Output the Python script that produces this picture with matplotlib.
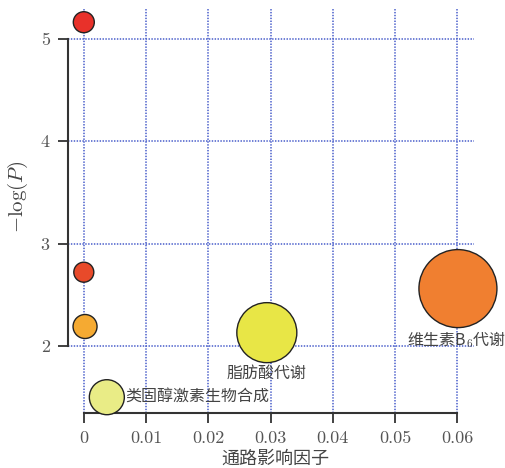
import matplotlib
matplotlib.use('Agg')
import matplotlib.pyplot as plt

plt.rcParams['font.family'] = ['Noto Sans CJK SC', 'DejaVu Sans']
plt.rcParams['mathtext.fontset'] = 'cm'

# pathway data
impact = [0.0, 0.0, 0.0002, 0.0037, 0.0294, 0.0601]
neglogp = [5.16, 2.72, 2.19, 1.50, 2.13, 2.56]
diam_px = [21, 20, 24, 35, 60, 78]
colors = ['#e8312a', '#e84a2a', '#f5aa32', '#e9ec86', '#e8e646', '#f07f30']
names = ['', '', '', '类固醇激素生物合成', '脂肪酸代谢', '维生素B$_6$代谢']

xticks = [0, 0.01, 0.02, 0.03, 0.04, 0.05, 0.06]
xticklabels = ['0', '0.01', '0.02', '0.03', '0.04', '0.05', '0.06']
yticks = [2, 3, 4, 5]

fig = plt.figure(figsize=(5.06, 4.68), dpi=100)
ax = fig.add_axes([0.134, 0.118, 0.803, 0.863])

sizes = [(d * 0.72) ** 2 for d in diam_px]
ax.scatter(impact, neglogp, s=sizes, c=colors, edgecolors='#222222',
           linewidths=1.0, zorder=3, clip_on=False)

ax.set_xlim(-0.00257, 0.0627)
ax.set_ylim(1.348, 5.29)

ax.grid(True, color='#4f63cc', linestyle=(0, (0.9, 0.9)), linewidth=1.15, zorder=0)
ax.set_axisbelow(True)

ax.set_xticks(xticks)
ax.set_xticklabels(xticklabels)
ax.set_yticks(yticks)
for lab in ax.get_xticklabels() + ax.get_yticklabels():
    lab.set_family('cmr10')
    lab.set_fontsize(13)
    lab.set_color('#555555')

ax.spines['top'].set_visible(False)
ax.spines['right'].set_visible(False)
ax.spines['left'].set_bounds(2, 5)
ax.spines['bottom'].set_bounds(0, 0.06)
for s in ['left', 'bottom']:
    ax.spines[s].set_linewidth(1.5)
    ax.spines[s].set_color('#333333')
ax.tick_params(direction='out', length=7, width=1.3, color='#333333', pad=6)

# labels next to the bubbles
lab_kw = dict(fontsize=11.5, color='#444444')
ax.text(impact[3] + 0.0029, neglogp[3], names[3], ha='left', va='center', **lab_kw)
ax.text(impact[4], neglogp[4] - 0.40, names[4], ha='center', va='center', **lab_kw)
ax.text(impact[5] - 0.0003, neglogp[5] - 0.50, names[5], ha='center', va='center', **lab_kw)

fig.text(0.545, 0.019, '通路影响因子', fontsize=13, color='#444444',
         ha='center', va='center')
fig.text(0.036, 0.579, r'$-\log(P)$', fontsize=15, color='#444444',
         rotation=90, ha='center', va='center')

fig.savefig('out.png', dpi=100)
